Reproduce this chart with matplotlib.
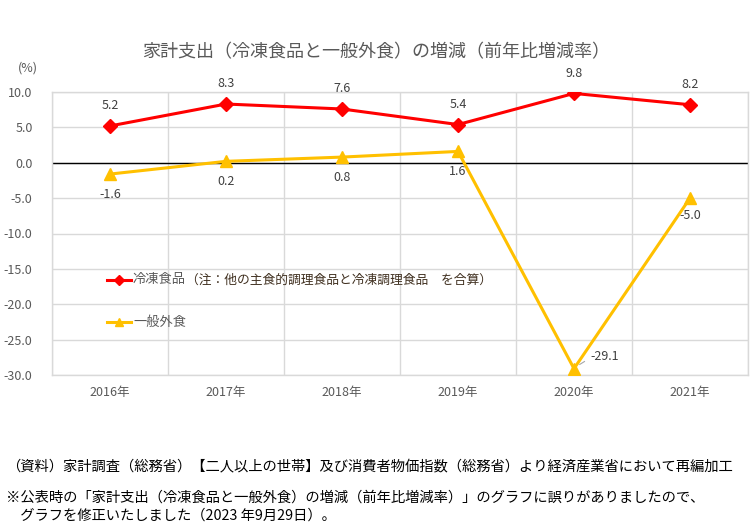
import matplotlib
matplotlib.use("Agg")
import matplotlib.pyplot as plt
from matplotlib.lines import Line2D

plt.rcParams['font.family'] = ['Noto Sans CJK JP', 'DejaVu Sans']

years = ["2016年", "2017年", "2018年", "2019年", "2020年", "2021年"]
frozen = [5.2, 8.3, 7.6, 5.4, 9.8, 8.2]
dining = [-1.6, 0.2, 0.8, 1.6, -29.1, -5.0]
yticks = [10.0, 5.0, 0.0, -5.0, -10.0, -15.0, -20.0, -25.0, -30.0]

W, H = 756, 529
fig = plt.figure(figsize=(W / 100, H / 100), dpi=100)
L, R, T, B = 52, 748, 92, 375
ax = fig.add_axes([L / W, 1 - B / H, (R - L) / W, (B - T) / H])

RED = "#FF0000"
YEL = "#FFC000"
GRAY = "#595959"
x = list(range(len(years)))

ax.set_xlim(-0.5, len(years) - 0.5)
ax.set_ylim(-30, 10)
ax.set_yticks(yticks)
ax.set_yticklabels([f"{v:.1f}" for v in yticks])
ax.set_xticks(x)
ax.set_xticklabels(years)
ax.tick_params(length=0, labelsize=9, colors=GRAY, pad=8)
ax.tick_params(axis='y', pad=14)
for s in ax.spines.values():
    s.set_color("#D9D9D9")
    s.set_linewidth(1)
for v in yticks:
    ax.axhline(v, color="#D9D9D9", lw=1, zorder=0)
for i in range(len(years) + 1):
    ax.axvline(i - 0.5, color="#D9D9D9", lw=1, zorder=0)
ax.axhline(0, color="black", lw=1, zorder=1)

ax.plot(x, frozen, color=RED, lw=2.2, marker="D", ms=7, zorder=3)
ax.plot(x, dining, color=YEL, lw=2.2, marker="^", ms=8, zorder=3)

lab_kw = dict(fontsize=9, color="#404040", ha="center")
for i, v in enumerate(frozen):
    ax.annotate(f"{v:.1f}", (i, v), xytext=(0, 10), textcoords="offset points", va="bottom", **lab_kw)
for i, v in enumerate(dining):
    if i == 4:
        ax.annotate(f"{v:.1f}", (i, v), xytext=(12, 4), textcoords="offset points",
                    va="bottom", fontsize=9, color="#404040", ha="left")
        ax.plot([i + 0.05, i + 0.09], [v + 0.6, v + 1.0], color="#A6A6A6", lw=0.8, zorder=2)
    elif i == 5:
        ax.annotate(f"{v:.1f}", (i, v), xytext=(0, -8), textcoords="offset points", va="top", **lab_kw)
    else:
        ax.annotate(f"{v:.1f}", (i, v), xytext=(0, -10), textcoords="offset points", va="top", **lab_kw)

# legend (manual, in figure pixel coordinates)
def fx(px):
    return px / W
def fy(py):
    return 1 - py / H

for py, col, mk, ms, name in [(280, RED, "D", 5, "冷凍食品"), (322, YEL, "^", 6, "一般外食")]:
    fig.add_artist(Line2D([fx(107), fx(131)], [fy(py), fy(py)], color=col, lw=2.2,
                          marker=None))
    fig.add_artist(Line2D([fx(119)], [fy(py)], color=col, marker=mk, ms=ms, lw=0))
    fig.text(fx(133), fy(py), name, fontsize=9.5, color=GRAY, va="center", ha="left")
fig.text(fx(186), fy(280), "（注：他の主食的調理食品と冷凍調理食品　を合算）", fontsize=9.2,
         color="#403020", va="center", ha="left")

fig.text(fx(376), fy(52), "家計支出（冷凍食品と一般外食）の増減（前年比増減率）", fontsize=13,
         color=GRAY, ha="center", va="center")
fig.text(fx(28), fy(68), "(%)", fontsize=9, color=GRAY, ha="center", va="center")

fig.text(fx(6), fy(466), "（資料）家計調査（総務省）【二人以上の世帯】及び消費者物価指数（総務省）より経済産業省において再編加工",
         fontsize=10.3, color="black", ha="left", va="center")
fig.text(fx(6), fy(498), "※公表時の「家計支出（冷凍食品と一般外食）の増減（前年比増減率）」のグラフに誤りがありましたので、",
         fontsize=10.3, color="black", ha="left", va="center")
fig.text(fx(6), fy(516), "　グラフを修正いたしました（2023 年9月29日）。",
         fontsize=10.3, color="black", ha="left", va="center")

fig.savefig("out.png", dpi=100)
